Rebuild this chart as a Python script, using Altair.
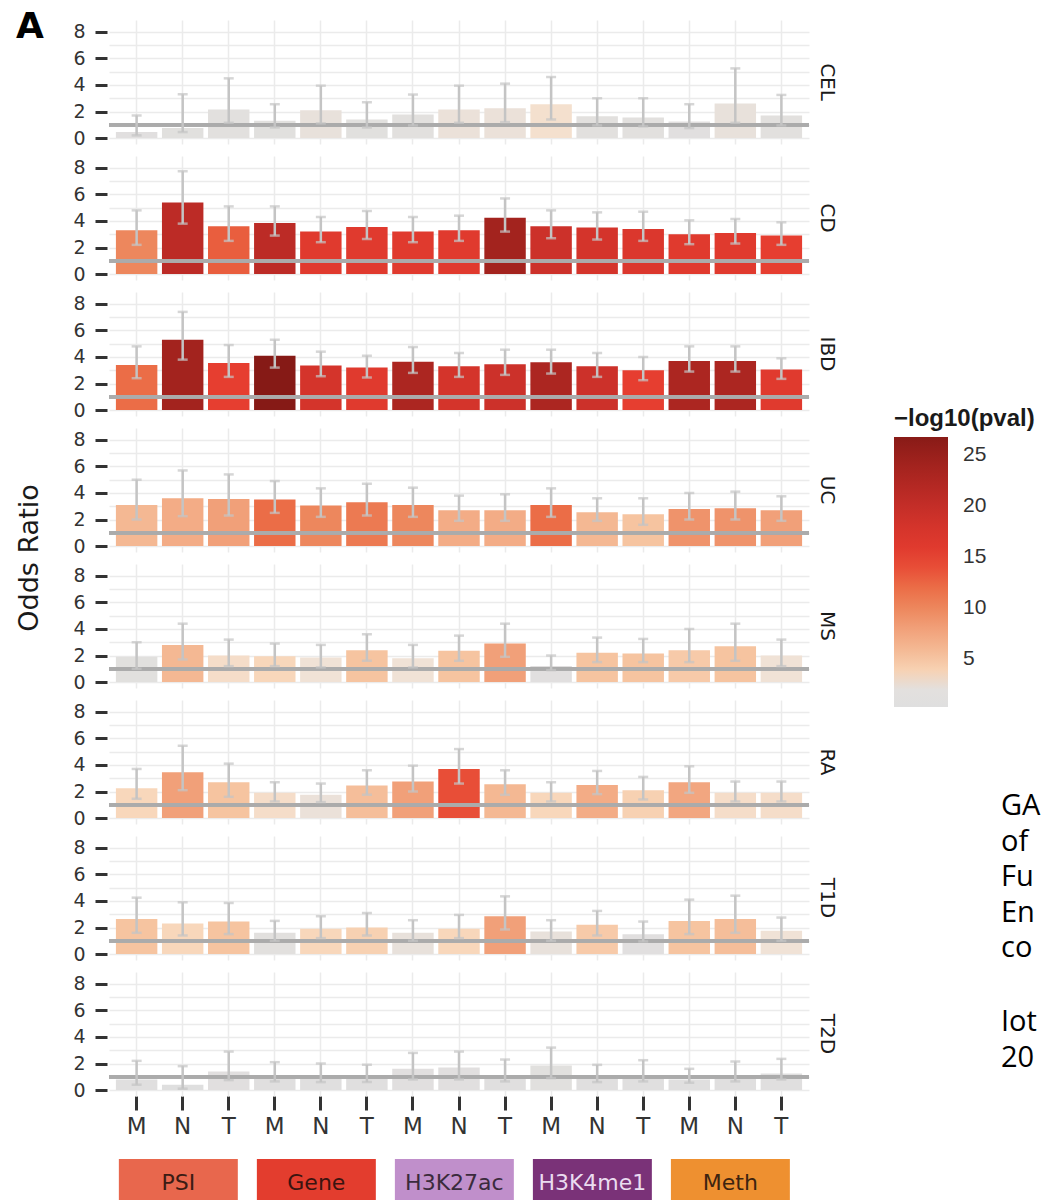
import altair as alt
import pandas as pd

# Diseases (facet rows), annotation groups and cell types (x axis)
diseases = ["CEL", "CD", "IBD", "UC", "MS", "RA", "T1D", "T2D"]
annotations = ["PSI", "Gene", "H3K27ac", "H3K4me1", "Meth"]
cell_types = ["M", "N", "T"]
annotation_fill = ["#e8674d", "#e33d2e", "#c08fcb", "#7a3278", "#ee9030"]
annotation_ink = ["#3b1c14", "#3b1410", "#3a2b3c", "#eadcf0", "#3d2410"]

# Odds ratio, 95% CI bounds and -log10(pval) per disease, 15 columns each
CEL_or = [0.45, 0.75, 2.15, 1.3, 2.1, 1.4, 1.78, 2.15, 2.25, 2.55, 1.65, 1.55, 1.25, 2.6, 1.7]
CEL_lo = [0.2, 0.45, 1.15, 0.8, 1.1, 0.8, 0.95, 1.15, 1.2, 1.4, 0.95, 0.88, 0.75, 1.15, 0.95]
CEL_hi = [1.7, 3.3, 4.5, 2.55, 3.95, 2.7, 3.28, 3.95, 4.1, 4.6, 3.0, 3.0, 2.55, 5.25, 3.25]
CEL_p = [1.0, 1.2, 1.6, 1.2, 2.2, 1.3, 1.5, 2.3, 2.3, 2.8, 1.4, 1.4, 1.1, 2.2, 1.4]

CD_or = [3.3, 5.4, 3.6, 3.85, 3.2, 3.55, 3.2, 3.3, 4.25, 3.6, 3.5, 3.4, 3.0, 3.1, 2.9]
CD_lo = [2.2, 3.8, 2.5, 2.9, 2.4, 2.65, 2.4, 2.5, 3.2, 2.7, 2.6, 2.5, 2.25, 2.3, 2.2]
CD_hi = [4.8, 7.75, 5.1, 5.1, 4.3, 4.75, 4.3, 4.4, 5.7, 4.8, 4.65, 4.7, 4.05, 4.15, 3.9]
CD_p = [10, 21, 13, 21, 16, 16, 16, 16, 24, 19, 18, 17, 16, 16, 15]

IBD_or = [3.4, 5.3, 3.55, 4.1, 3.35, 3.2, 3.65, 3.3, 3.45, 3.6, 3.3, 3.0, 3.7, 3.7, 3.05]
IBD_lo = [2.4, 3.8, 2.5, 3.2, 2.55, 2.45, 2.8, 2.5, 2.65, 2.75, 2.5, 2.25, 2.9, 2.9, 2.35]
IBD_hi = [4.8, 7.4, 4.9, 5.3, 4.4, 4.1, 4.75, 4.3, 4.55, 4.55, 4.3, 4.0, 4.8, 4.8, 3.9]
IBD_p = [12, 24, 15, 27, 18, 16, 23, 18, 19, 23, 19, 15, 23, 23, 16]

UC_or = [3.1, 3.6, 3.55, 3.5, 3.05, 3.3, 3.1, 2.7, 2.7, 3.1, 2.55, 2.4, 2.8, 2.85, 2.7]
UC_lo = [2.0, 2.25, 2.3, 2.5, 2.2, 2.3, 2.2, 1.9, 1.9, 2.2, 1.9, 1.6, 2.0, 2.0, 1.9]
UC_hi = [5.0, 5.7, 5.4, 4.9, 4.35, 4.7, 4.4, 3.8, 3.9, 4.35, 3.6, 3.6, 4.0, 4.1, 3.75]
UC_p = [6, 7, 8, 12, 10, 11, 10, 7, 7, 12, 6, 5, 9, 9, 8]

MS_or = [1.9, 2.8, 2.0, 1.95, 1.85, 2.4, 1.8, 2.35, 2.9, 1.2, 2.2, 2.15, 2.4, 2.7, 2.0]
MS_lo = [1.0, 1.7, 1.2, 1.2, 1.1, 1.6, 1.1, 1.6, 1.9, 0.9, 1.5, 1.5, 1.5, 1.6, 1.2]
MS_hi = [3.0, 4.4, 3.2, 2.9, 2.8, 3.6, 2.8, 3.5, 4.4, 2.0, 3.35, 3.25, 4.0, 4.4, 3.2]
MS_p = [1.3, 6, 3, 3.5, 2.5, 5, 2.5, 5, 8, 1.0, 5, 5, 4.5, 5, 2.5]

RA_or = [2.25, 3.45, 2.7, 1.9, 1.75, 2.45, 2.75, 3.7, 2.55, 1.9, 2.5, 2.1, 2.7, 1.9, 1.9]
RA_lo = [1.45, 2.1, 1.6, 1.25, 1.2, 1.75, 2.0, 2.6, 1.75, 1.25, 1.8, 1.4, 1.9, 1.25, 1.25]
RA_hi = [3.7, 5.45, 4.1, 2.7, 2.6, 3.6, 3.95, 5.2, 3.6, 2.7, 3.55, 3.1, 3.9, 2.75, 2.75]
RA_p = [3.5, 8, 5, 3, 2.3, 5.5, 8, 14, 6, 3.5, 7, 4, 7.5, 3, 3]

T1D_or = [2.65, 2.3, 2.45, 1.6, 1.9, 2.0, 1.6, 1.9, 2.85, 1.7, 2.2, 1.5, 2.5, 2.65, 1.75]
T1D_lo = [1.6, 1.4, 1.5, 1.0, 1.2, 1.4, 1.0, 1.2, 1.85, 1.0, 1.4, 0.95, 1.5, 1.6, 1.0]
T1D_hi = [4.25, 3.9, 3.85, 2.5, 2.85, 3.1, 2.55, 2.95, 4.35, 2.55, 3.25, 2.45, 4.1, 4.4, 2.75]
T1D_p = [5, 3.5, 5, 1.5, 3.5, 4, 2.2, 3.5, 8, 2.2, 4.5, 1.0, 5, 5.5, 2.5]

T2D_or = [0.8, 0.4, 1.4, 0.9, 0.85, 0.85, 1.6, 1.7, 1.0, 1.85, 0.9, 1.0, 0.8, 1.0, 1.25]
T2D_lo = [0.4, 0.1, 0.75, 0.65, 0.6, 0.6, 0.8, 0.8, 0.65, 0.9, 0.6, 0.65, 0.55, 0.65, 0.8]
T2D_hi = [2.2, 1.8, 2.9, 2.1, 2.0, 1.9, 2.8, 2.9, 2.3, 3.2, 1.9, 2.25, 1.6, 2.15, 2.35]
T2D_p = [0.8, 0.5, 1.0, 0.7, 0.7, 0.7, 1.1, 1.1, 0.8, 1.2, 0.7, 0.8, 0.6, 0.8, 0.9]

# Colour ramp for -log10(pval)
p_stops = [0.3, 2.0, 2.6, 3.5, 5, 7.5, 10, 12.5, 15, 17.5, 20, 22.5, 25, 26.8]
p_colors = ["#dfdfdf", "#e3e0de", "#f3e2d4", "#f8d7bb", "#f6c4a0", "#f2a680", "#ed875d",
            "#ea6641", "#e63e30", "#d8352c", "#c42e28", "#b02722", "#9a201c", "#881b17"]

# Side caption, two paragraphs
side_par1 = "GA\nof\nFu\nEn\nco"
side_par2 = "Iot\n20"

per_disease = {
    "CEL": (CEL_or, CEL_lo, CEL_hi, CEL_p),
    "CD": (CD_or, CD_lo, CD_hi, CD_p),
    "IBD": (IBD_or, IBD_lo, IBD_hi, IBD_p),
    "UC": (UC_or, UC_lo, UC_hi, UC_p),
    "MS": (MS_or, MS_lo, MS_hi, MS_p),
    "RA": (RA_or, RA_lo, RA_hi, RA_p),
    "T1D": (T1D_or, T1D_lo, T1D_hi, T1D_p),
    "T2D": (T2D_or, T2D_lo, T2D_hi, T2D_p),
}

keys = [f"{a}|{c}" for a in annotations for c in cell_types]
rows = []
for d in diseases:
    o, lo, hi, p = per_disease[d]
    for i, k in enumerate(keys):
        rows.append({"disease": d, "key": k, "odds": o[i], "lo": lo[i], "hi": hi[i], "logp": p[i]})
df = pd.DataFrame(rows)

FONT = "DejaVu Sans"
PANEL_W = 700
PANEL_H = 124

x_axis = alt.Axis(
    labelExpr="split(datum.value, '|')[1]", labelAngle=0, title=None,
    grid=True, gridColor="#ebebeb", gridWidth=1.5, bandPosition=0.5,
    domain=False, tickSize=14, tickWidth=3, tickColor="#333333",
    labelFontSize=23, labelColor="#333333", labelPadding=5, labelFont=FONT,
)
x_scale = alt.Scale(paddingInner=0.1, paddingOuter=0.15)
y_scale = alt.Scale(domain=[-0.45, 8.9], nice=False, zero=False)
# grid at every unit, labels and ticks on the even values only
y_axis = alt.Axis(
    values=list(range(0, 9)), title=None, labelOverlap=False,
    labelExpr="datum.value % 2 == 0 ? datum.label : ''",
    tickColor={"condition": {"test": "datum.value % 2 == 1", "value": "transparent"},
               "value": "#333333"},
    grid=True, gridColor="#ebebeb", gridWidth=1.5,
    domain=False, tickSize=12, tickWidth=3,
    labelFontSize=19, labelColor="#333333", labelPadding=10, labelFont=FONT,
)


def xk():
    return alt.X("key:N", sort=keys, scale=x_scale, axis=x_axis)


def yq(field):
    return alt.Y(field, scale=y_scale, axis=y_axis)


bars = alt.Chart().mark_bar().encode(
    x=xk(),
    y=yq("odds:Q"),
    y2=alt.datum(0),
    color=alt.Color(
        "logp:Q",
        scale=alt.Scale(domain=p_stops, range=p_colors, interpolate="rgb"),
        legend=alt.Legend(
            title="\u2212log10(pval)", orient="none", legendX=785, legendY=387,
            direction="vertical", gradientLength=270, gradientThickness=54,
            gradientStrokeWidth=0, values=[5, 10, 15, 20, 25],
            labelFontSize=21, labelColor="#333333", labelFont="Liberation Sans",
            labelOffset=15,
            titleFontSize=24, titleFontWeight="bold", titleFont="Liberation Sans",
            titleColor="#1a1a1a", titlePadding=6,
        ),
    ),
)
ref_line = alt.Chart().mark_rule(color="#ababab", strokeWidth=3).encode(
    y=alt.YDatum(1, scale=y_scale, axis=y_axis)
)
err = alt.Chart().mark_rule(color="#c4c4c4", strokeWidth=2.5).encode(
    x=xk(), y=yq("lo:Q"), y2="hi:Q"
)
cap_hi = alt.Chart().mark_tick(color="#c4c4c4", thickness=2.5, size=10).encode(
    x=xk(), y=yq("hi:Q")
)
cap_lo = alt.Chart().mark_tick(color="#c4c4c4", thickness=2.5, size=10).encode(
    x=xk(), y=yq("lo:Q")
)

panels = alt.layer(bars, ref_line, err, cap_hi, cap_lo, data=df).properties(
    width=PANEL_W, height=PANEL_H
).facet(
    row=alt.Row(
        "disease:N", sort=diseases,
        header=alt.Header(
            labelOrient="right", labelAngle=90, labelFontSize=20, labelColor="#1a1a1a",
            labelFont=FONT, labelPadding=6, labelAlign="center",
            title="Odds Ratio", titleOrient="left", titleFontSize=27,
            titleFontWeight="normal", titleColor="#1a1a1a", titleFont=FONT, titlePadding=18,
        ),
    ),
    spacing=12,
)

strip_df = pd.DataFrame({"annotation": annotations})
strip_x = alt.X(
    "annotation:N", sort=annotations, axis=None,
    scale=alt.Scale(paddingInner=0.138, paddingOuter=0.105, align=0.34),
)
strip_boxes = alt.Chart(strip_df).mark_bar().encode(
    x=strip_x,
    fill=alt.Fill("annotation:N", legend=None,
                  scale=alt.Scale(domain=annotations, range=annotation_fill)),
)
strip_text = alt.Chart(strip_df).mark_text(fontSize=22, font=FONT, dy=3).encode(
    x=strip_x, text="annotation:N",
    fill=alt.Fill("annotation:N", legend=None,
                  scale=alt.Scale(domain=annotations, range=annotation_ink)),
)
strip = alt.layer(strip_boxes, strip_text).resolve_scale(fill="independent").properties(
    width=PANEL_W, height=42
)

left_col = alt.vconcat(panels, strip, spacing=21).resolve_scale(fill="independent")

side_style = dict(font="Open Sans", fontSize=29, align="left", baseline="alphabetic",
                  lineBreak="\n", lineHeight=35.5, color="#000000")
side_a = alt.Chart(pd.DataFrame({"t": [side_par1]})).mark_text(**side_style).encode(
    text="t:N", x=alt.value(0), y=alt.value(795)
)
side_b = alt.Chart(pd.DataFrame({"t": [side_par2]})).mark_text(**side_style).encode(
    text="t:N", x=alt.value(0), y=alt.value(1011)
)
side = alt.layer(side_a, side_b).properties(width=40, height=1000)

chart = alt.hconcat(left_col, side, spacing=164).resolve_scale(fill="independent").properties(
    title=alt.Title("A", anchor="start", fontSize=36, fontWeight="bold", font=FONT,
                    color="#000000", frame="bounds", offset=0, dy=26, dx=0),
    padding={"left": 15, "top": 9, "right": 0, "bottom": 0},
).configure(font=FONT).configure_view(stroke=None)

chart.save("out.html", embed_options={"renderer": "svg", "actions": False})
